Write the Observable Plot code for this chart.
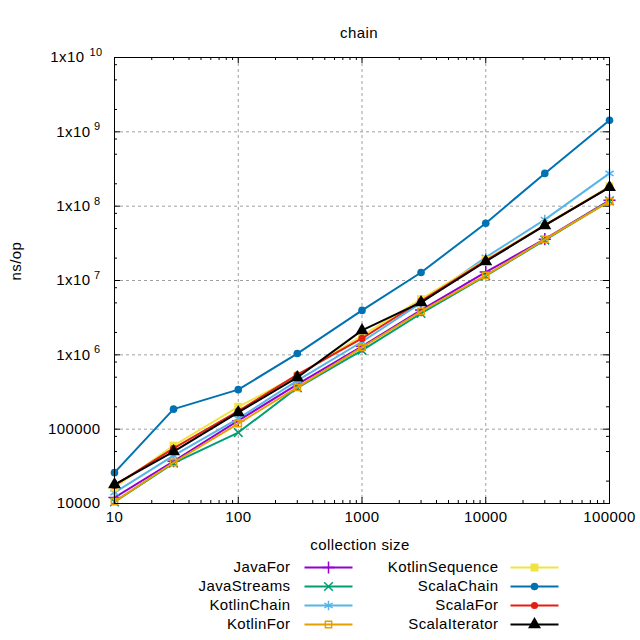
<!DOCTYPE html>
<html><head><meta charset="utf-8">
<script src="https://cdn.jsdelivr.net/npm/d3@7"></script>
<script src="https://cdn.jsdelivr.net/npm/@observablehq/plot@0.6"></script>
<style>
body{margin:0;background:#fff;}
#chart{width:640px;height:640px;position:relative;background:#fff;}
svg{display:block;}
</style></head><body><div id="chart"></div>
<script>
// ---- data ----
const sizes = [10, 30, 100, 300, 1000, 3000, 10000, 30000, 100000];
const seriesNames = ["JavaFor","JavaStreams","KotlinChain","KotlinFor","KotlinSequence","ScalaChain","ScalaFor","ScalaIterator"];
const javaFor        = [1.2e4, 3.7e4, 1.3e5, 4.0e5, 1.3e6, 4.0e6, 1.3e7, 3.6e7, 1.2e8];
const javaStreams    = [1.05e4, 3.5e4, 9.0e4, 3.6e5, 1.15e6, 3.6e6, 1.15e7, 3.5e7, 1.18e8];
const kotlinChain    = [1.4e4, 4.4e4, 1.39e5, 4.5e5, 1.5e6, 5.0e6, 2.05e7, 6.6e7, 2.76e8];
const kotlinFor      = [1.06e4, 3.56e4, 1.19e5, 3.64e5, 1.26e6, 3.84e6, 1.17e7, 3.57e7, 1.16e8];
const kotlinSequence = [1.64e4, 6.0e4, 2.0e5, 5.2e5, 1.8e6, 5.6e6, 1.9e7, 5.6e7, 1.85e8];
const scalaChain     = [2.6e4, 1.86e5, 3.4e5, 1.04e6, 3.96e6, 1.28e7, 5.9e7, 2.76e8, 1.43e9];
const scalaFor       = [1.75e4, 5.5e4, 1.75e5, 5.4e5, 1.66e6, 5.3e6, 1.85e7, 5.5e7, 1.8e8];
const scalaIterator  = [1.8e4, 5.0e4, 1.68e5, 4.96e5, 2.13e6, 5.07e6, 1.8e7, 5.5e7, 1.79e8];
const seriesValues = [javaFor, javaStreams, kotlinChain, kotlinFor, kotlinSequence, scalaChain, scalaFor, scalaIterator];

const xMajor = [10, 100, 1000, 10000, 100000];
const xTickLabels = ["10", "100", "1000", "10000", "100000"];
const yMajor = [1e4, 1e5, 1e6, 1e7, 1e8, 1e9, 1e10];
const yTickBase = ["10000", "100000", "1x10", "1x10", "1x10", "1x10", "1x10"];
const yTickExp  = ["", "", "6", "7", "8", "9", "10"];

const titleText = "chain";
const xLabel = "collection size";
const yLabel = "ns/op";

// ---- styles ----
const colors  = ["#9400d3","#009e73","#56b4e9","#e69f00","#f0e442","#0072b2","#e51e10","#000000"];
const symbols = ["plus","times","asterisk","square2","square","circle","circle","triangle"];
const filled  = [false,false,false,false,true,true,true,true];
const radii   = [4,4,4.5,4,4.5,3.8,3.6,4.8];
const FONT = "Liberation Sans, Arial, sans-serif";
const FS = 15;

const xMinor = d3.range(1, 5).flatMap(e => d3.range(2, 10).map(m => m * 10 ** e));
const yMinor = d3.range(4, 10).flatMap(e => [2, 5, 8].map(m => m * 10 ** e));

const table = seriesNames.flatMap((name, i) => sizes.map((s, j) => ({series: name, idx: i, size: s, value: seriesValues[i][j]})));

const W = 640, H = 560;
const mL = 114, mR = 31, mT = 57, mB = 57;
const pw = W - mL - mR, ph = H - mT - mB;
const majLen = 6, minLen = 3;

function dotStyle(i) {
  return filled[i]
    ? {fill: colors[i], stroke: "none", symbol: symbols[i], r: radii[i]}
    : {fill: "none", stroke: colors[i], strokeWidth: 1.5, symbol: symbols[i], r: radii[i]};
}

const marks = [];
// grid
marks.push(Plot.ruleX(xMajor.slice(1, -1), {x: d => d, stroke: "#a0a0a0", strokeWidth: 1, strokeDasharray: "3,3"}));
marks.push(Plot.ruleY(yMajor.slice(1, -1), {y: d => d, stroke: "#a0a0a0", strokeWidth: 1, strokeDasharray: "3,3"}));
// ticks (inward, mirrored)
marks.push(Plot.tickX(xMajor, {x: d => d, stroke: "black", insetTop: ph - majLen}));
marks.push(Plot.tickX(xMajor, {x: d => d, stroke: "black", insetBottom: ph - majLen}));
marks.push(Plot.tickX(xMinor, {x: d => d, stroke: "black", insetTop: ph - minLen}));
marks.push(Plot.tickX(xMinor, {x: d => d, stroke: "black", insetBottom: ph - minLen}));
marks.push(Plot.tickY(yMajor, {y: d => d, stroke: "black", insetRight: pw - majLen}));
marks.push(Plot.tickY(yMajor, {y: d => d, stroke: "black", insetLeft: pw - majLen}));
marks.push(Plot.tickY(yMinor, {y: d => d, stroke: "black", insetRight: pw - minLen}));
marks.push(Plot.tickY(yMinor, {y: d => d, stroke: "black", insetLeft: pw - minLen}));
// series
seriesNames.forEach((name, i) => {
  const rows = table.filter(d => d.idx === i);
  marks.push(Plot.line(rows, {x: "size", y: "value", stroke: colors[i], strokeWidth: 2}));
  marks.push(Plot.dot(rows, {x: "size", y: "value", ...dotStyle(i)}));
});
marks.push(Plot.frame({stroke: "black", strokeWidth: 1}));
// tick labels
marks.push(Plot.text(xMajor, {x: d => d, frameAnchor: "bottom", dy: 18, text: (d, i) => xTickLabels[i], fontSize: FS, fontFamily: FONT, fill: "black"}));
const yIdx = d3.range(yMajor.length);
marks.push(Plot.text(yIdx.filter(i => yTickExp[i] === ""), {y: i => yMajor[i], frameAnchor: "left", dx: -14, textAnchor: "end", text: i => yTickBase[i], fontSize: FS, fontFamily: FONT, fill: "black"}));
marks.push(Plot.text(yIdx.filter(i => yTickExp[i].length === 1), {y: i => yMajor[i], frameAnchor: "left", dx: -14, dy: -5, textAnchor: "end", text: i => yTickExp[i], fontSize: 11, fontFamily: FONT, fill: "black"}));
marks.push(Plot.text(yIdx.filter(i => yTickExp[i].length === 1), {y: i => yMajor[i], frameAnchor: "left", dx: -24, textAnchor: "end", text: i => yTickBase[i], fontSize: FS, fontFamily: FONT, fill: "black"}));
marks.push(Plot.text(yIdx.filter(i => yTickExp[i].length === 2), {y: i => yMajor[i], frameAnchor: "left", dx: -12, dy: -5, textAnchor: "end", text: i => yTickExp[i], fontSize: 11, fontFamily: FONT, fill: "black"}));
marks.push(Plot.text(yIdx.filter(i => yTickExp[i].length === 2), {y: i => yMajor[i], frameAnchor: "left", dx: -30, textAnchor: "end", text: i => yTickBase[i], fontSize: FS, fontFamily: FONT, fill: "black"}));
// titles
marks.push(Plot.text([titleText], {frameAnchor: "top", dx: -3, dy: -30, text: d => d, fontSize: FS, fontFamily: FONT, fill: "black"}));
marks.push(Plot.text([xLabel], {frameAnchor: "bottom", dx: -2, dy: 46, text: d => d, fontSize: FS, fontFamily: FONT, fill: "black"}));
marks.push(Plot.text([yLabel], {frameAnchor: "left", dx: -98, rotate: -90, text: d => d, fontSize: FS, fontFamily: FONT, fill: "black"}));

const main = Plot.plot({
  width: W, height: H,
  marginLeft: mL, marginRight: mR, marginTop: mT, marginBottom: mB,
  x: {type: "log", domain: [10, 1e5], axis: null},
  y: {type: "log", domain: [1e4, 1e10], axis: null},
  style: {background: "white", overflow: "visible", letterSpacing: "0.4px"},
  marks
});

// ---- legend ----
const legRows = seriesNames.map((name, i) => {
  const col = i < 4 ? 0 : 1;
  const row = i % 4;
  const lx = col === 0 ? 290 : 498;
  const sx = col === 0 ? 304 : 510;
  return {name, i, tx: lx, x1: sx, x2: sx + 48, xm: sx + 24, y: 7 + 19 * row};
});
const legMarks = [
  Plot.text(legRows, {x: "tx", y: "y", text: "name", textAnchor: "end", fontSize: FS, fontFamily: FONT, fill: "black"})
];
legRows.forEach(r => {
  legMarks.push(Plot.link([r], {x1: "x1", x2: "x2", y1: "y", y2: "y", stroke: colors[r.i], strokeWidth: 2}));
  legMarks.push(Plot.dot([r], {x: "xm", y: "y", ...dotStyle(r.i)}));
});
const legend = Plot.plot({
  width: W, height: 80, margin: 0,
  x: {type: "identity", axis: null},
  y: {type: "identity", axis: null},
  style: {background: "white", overflow: "visible", letterSpacing: "0.4px"},
  marks: legMarks
});

const root = document.getElementById("chart");
root.appendChild(main);
root.appendChild(legend);
</script>
</body></html>
